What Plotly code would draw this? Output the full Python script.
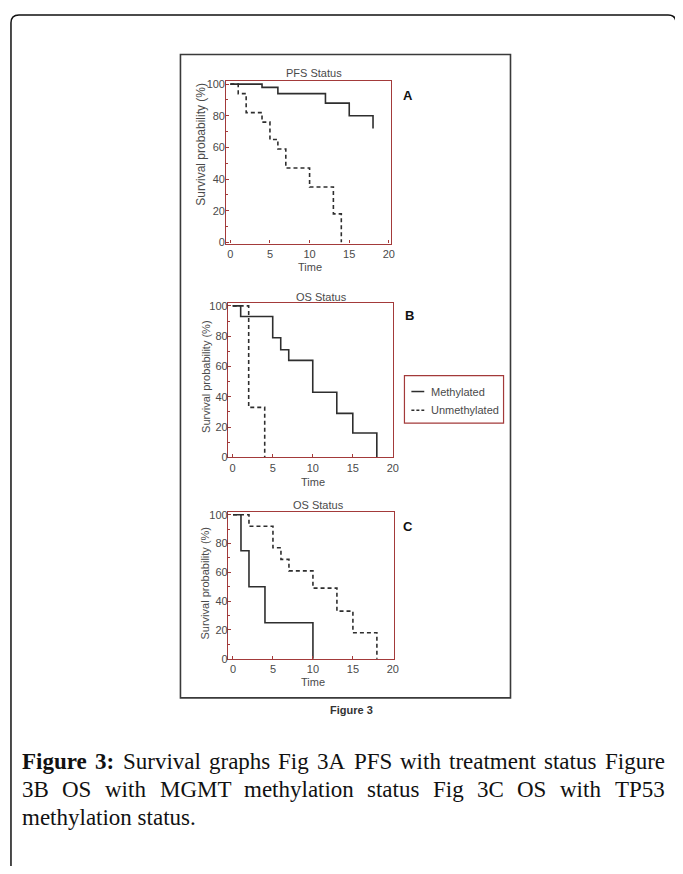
import plotly.graph_objects as go

# The page body has an 8px margin, so the figure is shifted; work in screen pixels.
OFF = 8
W, H = 683 - OFF, 874 - 2 * OFF


def px(x):
    return (x - OFF) / W


def py(y):
    return 1 - (y - OFF) / H


# ---------------- data ----------------
panel_titles = ["PFS Status", "OS Status", "OS Status"]
panel_letters = ["A", "B", "C"]
series_names = ["Methylated", "Unmethylated"]
x_ticks = [0, 5, 10, 15, 20]
y_ticks = [0, 20, 40, 60, 80, 100]

# Panel A - PFS
a_meth_t = [0, 4, 6, 12, 15, 18]
a_meth_s = [100, 98, 94, 88, 80, 72]
a_unmeth_t = [0, 1, 2, 4, 5, 6, 7, 10, 13, 14]
a_unmeth_s = [100, 94, 82, 76, 65, 59, 47, 35, 18, 0]

# Panel B - OS (MGMT)
b_meth_t = [0, 1, 5, 6, 7, 10, 13, 15, 18]
b_meth_s = [100, 93, 79, 71, 64, 43, 29, 16, 0]
b_unmeth_t = [0, 2, 4]
b_unmeth_s = [100, 33, 0]

# Panel C - OS (TP53)
c_meth_t = [0, 1, 2, 4, 10]
c_meth_s = [100, 75, 50, 25, 0]
c_unmeth_t = [0, 2, 5, 6, 7, 10, 13, 15, 18]
c_unmeth_s = [100, 92, 77, 69, 61, 49, 33, 18, 0]

caption_line1 = [("Figure", True), ("3:", True), ("Survival", False), ("graphs", False),
                 ("Fig", False), ("3A", False), ("PFS", False), ("with", False),
                 ("treatment", False), ("status", False), ("Figure", False)]
caption_line2 = ["3B", "OS", "with", "MGMT", "methylation", "status", "Fig", "3C", "OS", "with", "TP53"]
caption_line3 = "methylation status."

# ---------------- styling ----------------
FRAME = "#a33a3a"
CURVE = "#2e2e2e"
TXT = "#4a4a4a"
FONT = "Liberation Sans, Arial, sans-serif"
SERIF = "Liberation Serif, Times New Roman, serif"

panels = [
    dict(box=(228.3, 394.3, 78.3, 242.3), xr=[-0.5, 20.25], yr=[-0.8, 101.7],
         data=[(a_meth_t, a_meth_s), (a_unmeth_t, a_unmeth_s)],
         title_xy=(317, 70), letter_xy=(412, 92), ytitle_xy=(203, 142), ysize=12,
         time_y=266, ystand=-2),
    dict(box=(230.0, 396.7, 302.3, 458.7), xr=[-0.58, 20.05], yr=[-0.1, 102.0],
         data=[(b_meth_t, b_meth_s), (b_unmeth_t, b_unmeth_s)],
         title_xy=(324, 296), letter_xy=(413, 315), ytitle_xy=(207, 377), ysize=11,
         time_y=484, ystand=-3),
    dict(box=(230.0, 397.3, 514.3, 662.7), xr=[-0.62, 20.12], yr=[-0.27, 101.6],
         data=[(c_meth_t, c_meth_s), (c_unmeth_t, c_unmeth_s)],
         title_xy=(321, 507), letter_xy=(412, 529), ytitle_xy=(207, 586), ysize=11,
         time_y=686, ystand=-3),
]

fig = go.Figure()
annotations = []
shapes = []


def ann(text, x, y, size, color=TXT, family=FONT, xanchor="center", **kw):
    d = dict(text=text, x=x, y=y, xref=kw.pop("xref", "paper"), yref="paper",
             xanchor=xanchor, yanchor="middle", showarrow=False,
             font=dict(family=family, size=size, color=color))
    d.update(kw)
    annotations.append(d)


for i, p in enumerate(panels):
    n = "" if i == 0 else str(i + 1)
    xa, ya = "x" + n, "y" + n
    for j, (t, s) in enumerate(p["data"]):
        fig.add_trace(go.Scatter(
            x=t, y=s, xaxis=xa, yaxis=ya, mode="lines", line_shape="hv",
            name=series_names[j], showlegend=False,
            line=dict(color=CURVE, width=1.6, dash="solid" if j == 0 else "4px,3px"),
            hoverinfo="skip",
        ))
    l, r, t_, b = p["box"]
    axis_common = dict(showline=True, linecolor=FRAME, linewidth=1.3, mirror=True,
                       ticks="inside", ticklen=3, tickcolor=FRAME, tickwidth=1,
                       showgrid=False, zeroline=False,
                       tickfont=dict(family=FONT, size=11, color=TXT))
    fig.update_layout(**{
        "xaxis" + n: dict(domain=[px(l), px(r)], range=p["xr"], anchor=ya,
                          tickvals=x_ticks, **axis_common),
        "yaxis" + n: dict(domain=[py(b), py(t_)], range=p["yr"], anchor=xa,
                          tickvals=y_ticks, ticklabelstandoff=p["ystand"],
                          minor=dict(ticks="inside", ticklen=2, tickcolor=FRAME, dtick=10),
                          **axis_common),
    })
    ann(panel_titles[i], px(p["title_xy"][0]), py(p["title_xy"][1]), 11)
    ann("<b>%s</b>" % panel_letters[i], px(p["letter_xy"][0]), py(p["letter_xy"][1]), 13,
        color="#111")
    ann("Survival probability (%)", px(p["ytitle_xy"][0]), py(p["ytitle_xy"][1]), p["ysize"],
        textangle=-90)
    ann("Time", 10, py(p["time_y"]), 11, xref=xa)

# custom legend (short line samples as in the original)
LEG = dict(l=408, r=508, t=376, b=424)
shapes.append(dict(type="rect", xref="paper", yref="paper", x0=px(LEG["l"]), x1=px(LEG["r"]),
                   y0=py(LEG["b"]), y1=py(LEG["t"]), line=dict(color=FRAME, width=1.2),
                   fillcolor="white", layer="below"))
for k, (nm, yy) in enumerate(zip(series_names, [392, 411])):
    shapes.append(dict(type="line", xref="paper", yref="paper", x0=px(415), x1=px(428),
                       y0=py(yy), y1=py(yy),
                       line=dict(color=CURVE, width=1.5, dash="solid" if k == 0 else "3px,2px")))
    ann(nm, px(433), py(yy), 11, xanchor="left")

# "Figure 3" label under the inner box
ann("<b>Figure 3</b>", px(355), py(714), 11, color="#333")

# ---------------- caption (justified, Times metrics) ----------------
REG = {' ': 250, '.': 250, ':': 278, '3': 500, '5': 500, 'A': 722, 'B': 667, 'C': 667,
       'F': 556, 'G': 722, 'M': 889, 'O': 722, 'P': 556, 'S': 556, 'T': 611,
       'a': 444, 'b': 500, 'c': 444, 'd': 500, 'e': 444, 'f': 333, 'g': 500, 'h': 500,
       'i': 278, 'l': 278, 'm': 778, 'n': 500, 'o': 500, 'p': 500, 'r': 333, 's': 389,
       't': 278, 'u': 500, 'v': 500, 'w': 722, 'y': 500}
BOLD = {'F': 611, 'i': 278, 'g': 500, 'u': 556, 'r': 444, 'e': 444, '3': 500, ':': 333, ' ': 250}
CAP = 23
CAP_L, CAP_R = 20, 668


def wordw(w, bold=False):
    tab = BOLD if bold else REG
    return sum(tab.get(c, 500) for c in w) / 1000 * CAP


def justify(words, y):
    widths = [wordw(w, b) for w, b in words]
    gap = (CAP_R - CAP_L - sum(widths)) / (len(words) - 1)
    x = CAP_L
    for (w, b), ww in zip(words, widths):
        ann(("<b>%s</b>" % w) if b else w, px(x), py(y), CAP, color="#111", family=SERIF,
            xanchor="left")
        x += ww + gap


justify(caption_line1, 766)
justify([(w, False) for w in caption_line2], 795)
ann(caption_line3, px(CAP_L), py(823), CAP, color="#111", family=SERIF, xanchor="left")

# inner figure box
shapes.append(dict(type="rect", xref="paper", yref="paper", x0=px(182), x1=px(515),
                   y0=py(702), y1=py(51), line=dict(color="#3a3a3a", width=1.6)))
# outer rounded frame
path = "M %f,%f L %f,%f Q %f,%f %f,%f L %f,%f Q %f,%f %f,%f L %f,%f" % (
    px(11), py(900), px(11), py(19), px(11), py(11), px(19), py(11),
    px(674), py(11), px(682), py(11), px(682), py(19), px(682), py(900))
shapes.append(dict(type="path", xref="paper", yref="paper", path=path,
                   line=dict(color="#111", width=1.5)))

fig.update_layout(
    width=W, height=H, margin=dict(l=0, r=0, t=0, b=0),
    paper_bgcolor="white", plot_bgcolor="white",
    annotations=annotations, shapes=shapes, showlegend=False,
)

fig.write_html("out.html")
